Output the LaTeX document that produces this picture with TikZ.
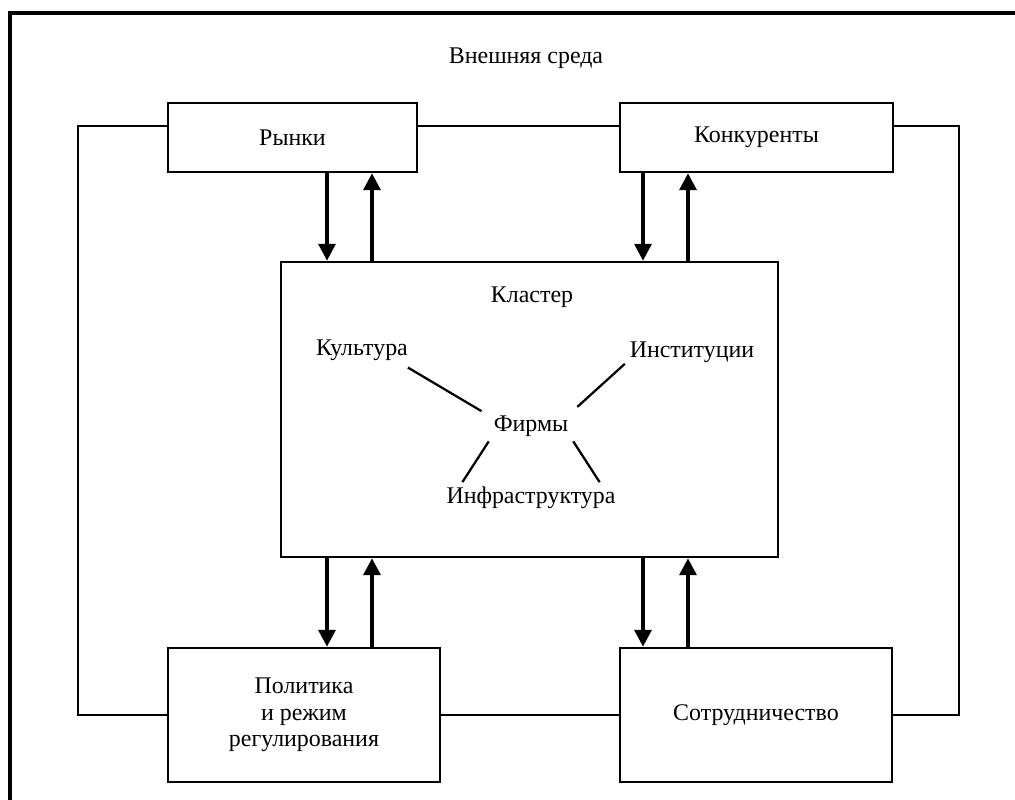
\documentclass[tikz,border=0pt]{standalone}
\usepackage{fontspec}
\setmainfont{Liberation Serif}
\usetikzlibrary{arrows.meta}
\begin{document}
\begin{tikzpicture}[x=0.025cm, y=-0.025cm,
        font=\fontsize{17}{19}\selectfont,
        box/.style={draw, line width=1.8pt, align=center},
        link/.style={line width=1.8pt},
        flow/.style={line width=2.6pt, -{Triangle[length=12pt, width=12pt]}},
        spoke/.style={line width=1.6pt}]
    \useasboundingbox (0, 0) rectangle (1015, 800);
    \draw[line width=3pt] (10, 800) -- (10, 13) -- (1015, 13);
    \node (env) at (526, 58) {Внешняя среда};
    \node[box, minimum width=6.225cm, minimum height=1.725cm] (mkt) at (292.5, 137.5) {Рынки};
    \node[box, minimum width=6.825cm, minimum height=1.725cm] (kon) at (756.5, 137.5) {Конкуренты};
    \node[box, minimum width=12.425cm, minimum height=7.375cm] (clu) at (529.5, 409.5) {};
    \node[box, minimum width=6.8cm, minimum height=3.35cm] (pol) at (304, 715) {Политика\\и режим\\регулирования};
    \node[box, minimum width=6.8cm, minimum height=3.35cm] (sot) at (756, 715) {Сотрудничество};
    \node (clt) at (532, 297) {Кластер};
    \node (kul) at (362, 350) {Культура};
    \node (ins) at (692, 352) {Институции};
    \node (frm) at (531, 426) {Фирмы};
    \node (inf) at (531, 498) {Инфраструктура};
    \coordinate (loopL) at (78, 126);
    \coordinate (loopR) at (959, 126);
    \coordinate (c1) at (327, 0);
    \coordinate (c2) at (372, 0);
    \coordinate (c3) at (643, 0);
    \coordinate (c4) at (688, 0);
    \draw[link] (mkt.west |- loopL) -- (loopL) |- (pol.west);
    \draw[link] (mkt.east |- loopL) -- (kon.west |- loopL);
    \draw[link] (kon.east |- loopR) -- (loopR) |- (sot.east);
    \draw[link] (pol.east) -- (sot.west);
    \draw[flow] (mkt.south -| c1) -- (clu.north -| c1);
    \draw[flow] (clu.north -| c2) -- (mkt.south -| c2);
    \draw[flow] (kon.south -| c3) -- (clu.north -| c3);
    \draw[flow] (clu.north -| c4) -- (kon.south -| c4);
    \draw[flow] (clu.south -| c1) -- (pol.north -| c1);
    \draw[flow] (pol.north -| c2) -- (clu.south -| c2);
    \draw[flow] (clu.south -| c3) -- (sot.north -| c3);
    \draw[flow] (sot.north -| c4) -- (clu.south -| c4);
    \draw[spoke, shorten <=3pt, shorten >=6pt] (kul.-20) -- (frm.166);
    \draw[spoke, shorten >=4pt] (ins.190) -- (frm.20);
    \draw[spoke] (frm.south west) -- (inf.167);
    \draw[spoke] (frm.south east) -- (inf.13);
\end{tikzpicture}
\end{document}
